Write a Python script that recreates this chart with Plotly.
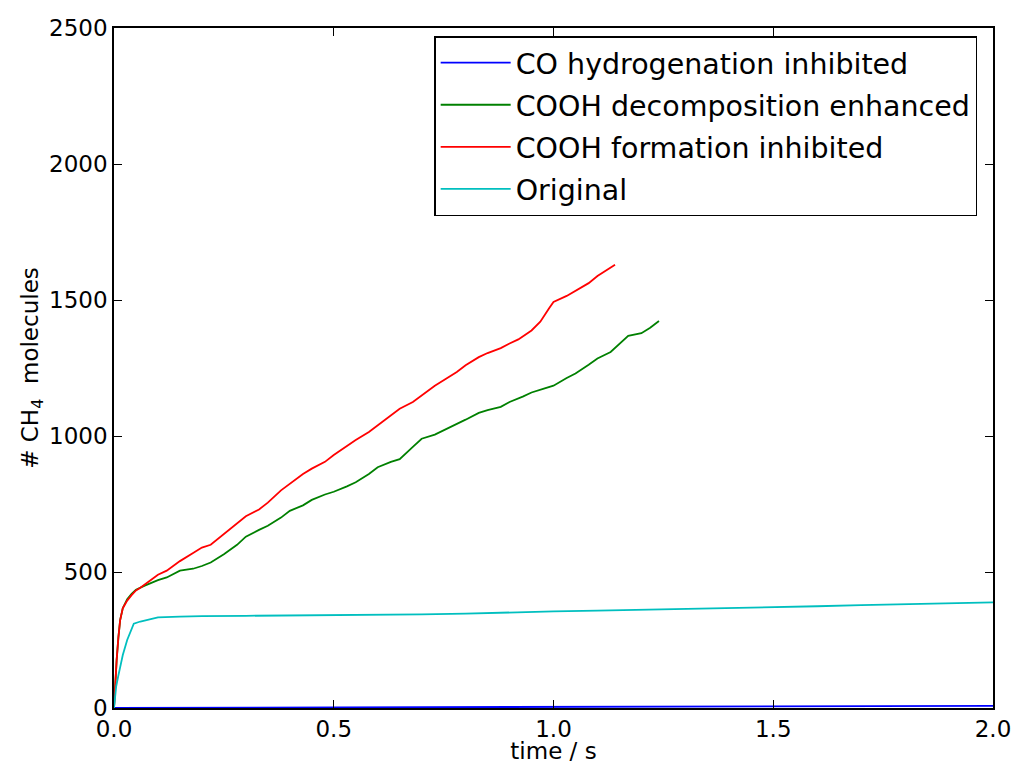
import plotly.graph_objects as go

t_red = [0, 0.003, 0.006, 0.01, 0.014, 0.02, 0.03, 0.04, 0.05, 0.06, 0.08, 0.1, 0.12, 0.15, 0.18, 0.2, 0.22,
         0.25, 0.28, 0.3, 0.33, 0.35, 0.38, 0.4, 0.43, 0.45, 0.48, 0.5, 0.53, 0.55, 0.58, 0.6, 0.63, 0.65,
         0.68, 0.7, 0.73, 0.75, 0.78, 0.8, 0.83, 0.85, 0.88, 0.9, 0.92, 0.95, 0.97, 0.99, 1.0, 1.03, 1.05,
         1.08, 1.1, 1.12, 1.14]
y_red = [0, 100, 176, 260, 323, 367, 395, 415, 432, 442, 465, 490, 505, 540, 570, 590, 600,
         640, 680, 705, 730, 755, 800, 825, 860, 880, 905, 930, 965, 985, 1015, 1040, 1075, 1100,
         1125, 1150, 1185, 1205, 1235, 1260, 1290, 1305, 1323, 1340, 1355, 1388, 1420, 1470, 1493, 1515, 1535,
         1562, 1588, 1610, 1630]

t_green = [0, 0.003, 0.006, 0.01, 0.014, 0.02, 0.03, 0.04, 0.05, 0.07, 0.1, 0.12, 0.15, 0.18, 0.2, 0.22,
           0.25, 0.28, 0.3, 0.33, 0.35, 0.38, 0.4, 0.43, 0.45, 0.48, 0.5, 0.53, 0.55, 0.58, 0.6, 0.63, 0.65,
           0.68, 0.7, 0.73, 0.75, 0.78, 0.8, 0.83, 0.85, 0.88, 0.9, 0.93, 0.95, 0.98, 1.0, 1.03, 1.05, 1.08,
           1.1, 1.13, 1.15, 1.17, 1.2, 1.22, 1.24]
y_green = [0, 100, 176, 260, 323, 367, 400, 420, 435, 450, 470, 480, 505, 512, 522, 535,
           565, 600, 630, 655, 670, 700, 725, 745, 765, 785, 795, 815, 830, 860, 885, 905, 915,
           960, 990, 1005, 1020, 1045, 1060, 1085, 1095, 1107, 1125, 1145, 1160, 1175, 1185, 1213, 1230, 1262,
           1285, 1309, 1340, 1368, 1378, 1398, 1423]

t_cyan = [0, 0.002, 0.005, 0.01, 0.02, 0.03, 0.04, 0.045, 0.06, 0.1, 0.15, 0.2, 0.3, 0.5, 0.7, 0.8, 0.9,
          1.0, 1.1, 1.2, 1.3, 1.4, 1.5, 1.6, 1.7, 1.8, 1.9, 2.0]
y_cyan = [0, 40, 80, 120, 195, 250, 295, 310, 318, 333, 336, 338, 339, 341, 344, 347, 352,
          355, 358, 361, 363, 368, 371, 374, 378, 382, 384, 388]

t_blue = [0, 0.5, 1.0, 1.5, 2.0]
y_blue = [0, 2, 4, 6, 8]

x_ticks = [0.0, 0.5, 1.0, 1.5, 2.0]
y_ticks = [0, 500, 1000, 1500, 2000, 2500]

series = [
    ("CO hydrogenation inhibited", t_blue, y_blue, "#0000ff"),
    ("COOH decomposition enhanced", t_green, y_green, "#008000"),
    ("COOH formation inhibited", t_red, y_red, "#ff0000"),
    ("Original", t_cyan, y_cyan, "#00bfbf"),
]

fig = go.Figure()
for i, (name, t, y, c) in enumerate(series):
    fig.add_trace(go.Scatter(x=t, y=y, mode="lines", name=name, legendgroup=str(i),
                             line=dict(color=c, width=1.8)))

axis_common = dict(showgrid=False, zeroline=False, showline=True, linecolor="black", linewidth=1.5,
                   mirror="ticks", ticks="inside", ticklen=8, tickcolor="black", tickwidth=1,
                   tickfont=dict(size=23, color="black"), automargin=False,
                   ticklabeloverflow="allow")
fig.update_layout(
    width=1011, height=764,
    margin=dict(l=114, r=18, t=28, b=56),
    paper_bgcolor="white", plot_bgcolor="white",
    font=dict(family="DejaVu Sans", color="black"),
    xaxis=dict(range=[0, 2.0], tickvals=x_ticks, tickformat=".1f",
               title=dict(text="time / s", font=dict(size=23), standoff=6), **axis_common),
    yaxis=dict(range=[0, 2500], tickvals=y_ticks,
               title=dict(text="# CH<sub>4</sub>  molecules", font=dict(size=23), standoff=4), **axis_common),
    legend=dict(x=0.982, y=0.988, xanchor="right", yanchor="top", bgcolor="white",
                bordercolor="black", borderwidth=1.5, font=dict(size=28.5),
                traceorder="grouped", tracegroupgap=2, itemwidth=70),
    showlegend=True,
)
fig.write_html("out.html")
